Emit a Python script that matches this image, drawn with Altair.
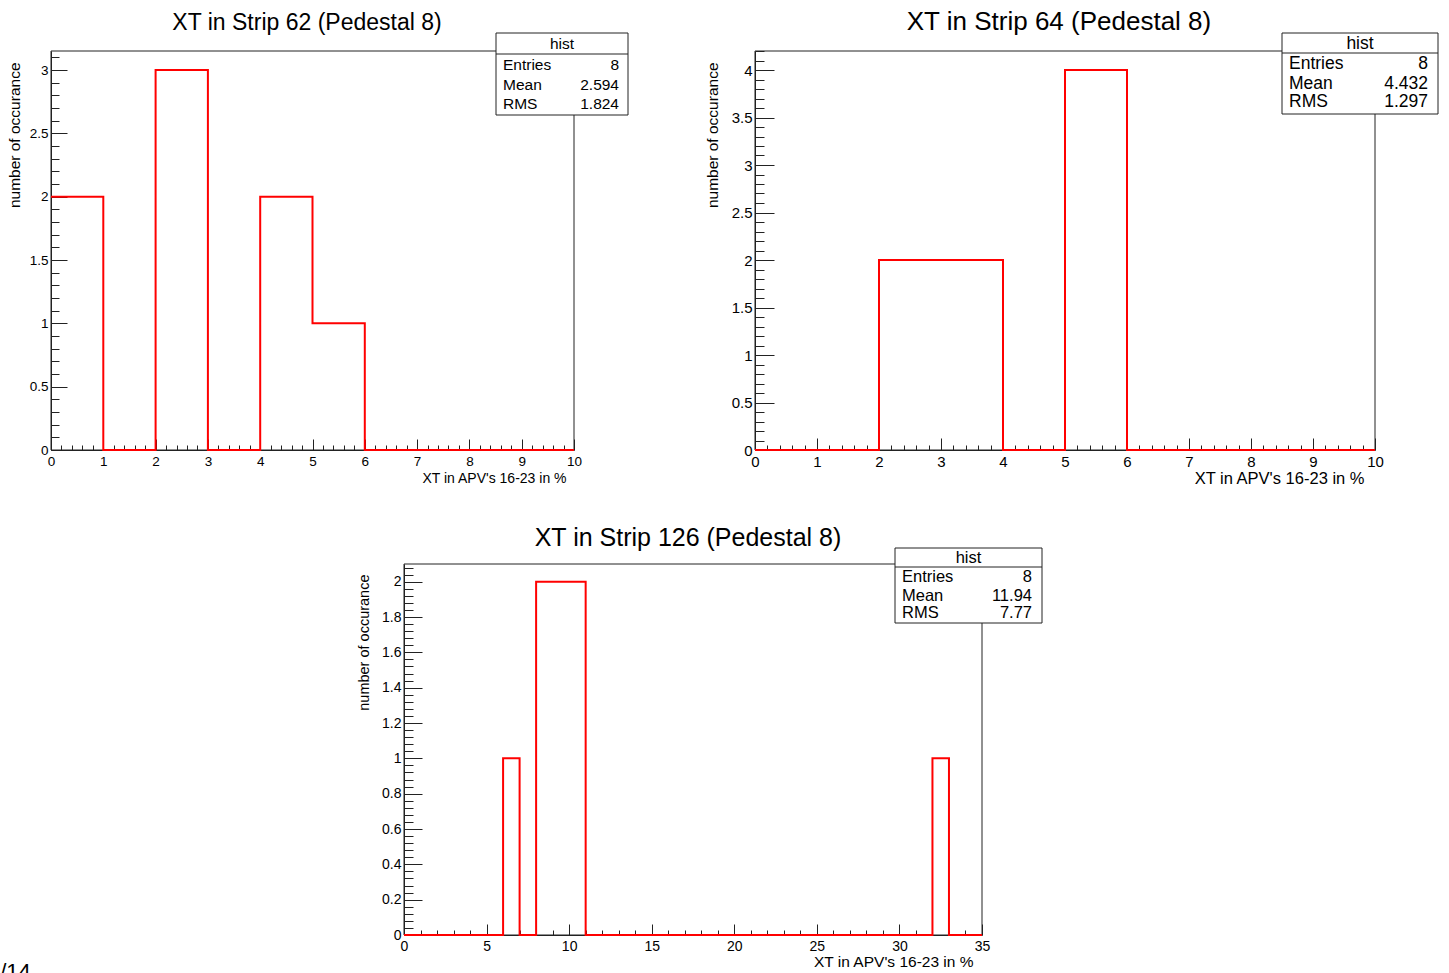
import altair as alt
import pandas as pd

W, H = 1449, 973
FONT = "Liberation Sans"
INK = "#222222"
RED = "#ff0000"

# ---- text ----
titles = ["XT in Strip 62 (Pedestal 8)", "XT in Strip 64 (Pedestal 8)", "XT in Strip 126 (Pedestal 8)"]
x_title = "XT in APV's 16-23 in %"
y_title = "number of occurance"
box_name = "hist"
stat_names = ["Entries", "Mean", "RMS"]
page_no = "1/14"

# ---- bin contents (unit-width bins starting at 0) ----
counts_62 = [2, 0, 3, 0, 2, 1, 0, 0, 0, 0]
counts_64 = [0, 0, 2, 2, 0, 4, 0, 0, 0, 0]
counts_126 = [0, 0, 0, 0, 0, 0, 1, 0, 2, 2, 2, 0, 0, 0, 0, 0, 0, 0, 0, 0,
              0, 0, 0, 0, 0, 0, 0, 0, 0, 0, 0, 0, 1, 0, 0]

# ---- statistics box values ----
stats_62 = ["8", "2.594", "1.824"]
stats_64 = ["8", "4.432", "1.297"]
stats_126 = ["8", "11.94", "7.77"]

# ---- axis ranges and tick labels ----
x_dom_62, y_dom_62 = [0, 10], [0, 3.15]
x_dom_64, y_dom_64 = [0, 10], [0, 4.2]
x_dom_126, y_dom_126 = [0, 35], [0, 2.1]
x_labels_62 = [0, 1, 2, 3, 4, 5, 6, 7, 8, 9, 10]
x_labels_64 = [0, 1, 2, 3, 4, 5, 6, 7, 8, 9, 10]
x_labels_126 = [0, 5, 10, 15, 20, 25, 30, 35]
y_labels_62 = [0, 0.5, 1, 1.5, 2, 2.5, 3]
y_labels_64 = [0, 0.5, 1, 1.5, 2, 2.5, 3, 3.5, 4]
y_labels_126 = [0, 0.2, 0.4, 0.6, 0.8, 1, 1.2, 1.4, 1.6, 1.8, 2]


def tick_values(lo, hi, step):
    n = int(round((hi - lo) / step))
    return [round(lo + i * step, 6) for i in range(n + 1)]


def major_size(step, big, small):
    test = f"abs(datum.value / {step} - round(datum.value / {step})) < 0.0001"
    return {"condition": {"test": test, "value": big}, "value": small}


def one(**kw):
    return pd.DataFrame({k: [v] for k, v in kw.items()})


def panel(counts, stats, title, x_dom, y_dom, x_labels, y_labels, g):
    x0, x1 = g["xpx"]
    yb, yt = g["ypx"]
    xs = alt.Scale(domain=x_dom, range=[x0, x1], nice=False, zero=False)
    ys = alt.Scale(domain=y_dom, range=[yb, yt], nice=False, zero=False)

    hist = pd.DataFrame({"edge": list(range(len(counts) + 1)), "count": counts + [counts[-1]]})
    line = alt.Chart(hist).mark_line(
        interpolate="step-after", color=RED, strokeWidth=2
    ).encode(
        x=alt.X("edge:Q", scale=xs, axis=alt.Axis(
            orient="bottom", offset=yb - H, values=x_labels, format="d",
            ticks=False, tickSize=0, grid=False, domainColor=INK, domainWidth=1,
            labelFont=FONT, labelFontSize=g["lab"], labelColor="#000", labelPadding=4,
            labelFlush=False, labelOverlap=False,
            title=x_title, titleFont=FONT, titleFontSize=g["xt"], titleFontWeight="normal",
            titleColor="#000", titleX=g["xtx"], titleY=g["xty"], titleAlign="right",
            titleBaseline="middle")),
        y=alt.Y("count:Q", scale=ys, axis=alt.Axis(
            orient="left", offset=-x0, values=y_labels, format="~g",
            ticks=False, tickSize=0, grid=False, domainColor=INK, domainWidth=1,
            labelFont=FONT, labelFontSize=g["lab"], labelColor="#000", labelPadding=3,
            labelFlush=False, labelOverlap=False,
            title=y_title, titleFont=FONT, titleFontSize=g["yt"], titleFontWeight="normal",
            titleColor="#000", titleAngle=270, titleX=g["ytx"] - x0, titleY=g["yty"],
            titleAlign="right", titleBaseline="middle")),
    )

    # frame around the plot; its axes carry the inward-pointing ticks
    frame = alt.Chart(one(a=x_dom[0], b=x_dom[1], c=y_dom[0], d=y_dom[1])).mark_rect(
        fill="transparent", stroke=INK, strokeWidth=1
    ).encode(
        x=alt.X("a:Q", scale=xs, axis=alt.Axis(
            orient="top", offset=-yb, values=tick_values(x_dom[0], x_dom[1], g["xminor"]),
            labels=False, domain=False, grid=False, tickColor=INK, tickWidth=1,
            tickSize=major_size(g["xmajor"], g["xtick"][0], g["xtick"][1]), title=None)),
        x2="b:Q",
        y=alt.Y("c:Q", scale=ys, axis=alt.Axis(
            orient="right", offset=x0 - W, values=tick_values(y_dom[0], g["ytop"], g["yminor"]),
            labels=False, domain=False, grid=False, tickColor=INK, tickWidth=1,
            tickSize=major_size(g["ymajor"], g["ytick"][0], g["ytick"][1]), title=None)),
        y2="d:Q",
    )

    layers = [frame, line]

    # title above the pad
    layers.append(alt.Chart(one(t=title)).mark_text(
        font=FONT, fontSize=g["title"], align="center", baseline="alphabetic", color="#000"
    ).encode(text="t:N", x=alt.value(g["tx"]), y=alt.value(g["ty"])))

    # statistics box
    bx0, bx1, by0, by1, sep = g["box"]
    layers.append(alt.Chart(one(t=box_name)).mark_rect(
        fill="white", stroke=INK, strokeWidth=1
    ).encode(x=alt.value(bx0), x2=alt.value(bx1), y=alt.value(by0), y2=alt.value(by1)))
    layers.append(alt.Chart(one(t=box_name)).mark_rule(color=INK, strokeWidth=1).encode(
        x=alt.value(bx0), x2=alt.value(bx1), y=alt.value(sep)))
    layers.append(alt.Chart(one(t=box_name)).mark_text(
        font=FONT, fontSize=g["stat"], align="center", baseline="middle", color="#000"
    ).encode(text="t:N", x=alt.value((bx0 + bx1) / 2), y=alt.value(g["hy"])))
    for name, val, ry in zip(stat_names, stats, g["rows"]):
        layers.append(alt.Chart(one(t=name)).mark_text(
            font=FONT, fontSize=g["stat"], align="left", baseline="middle", color="#000"
        ).encode(text="t:N", x=alt.value(g["sl"]), y=alt.value(ry)))
        layers.append(alt.Chart(one(t=val)).mark_text(
            font=FONT, fontSize=g["stat"], align="right", baseline="middle", color="#000"
        ).encode(text="t:N", x=alt.value(g["sr"]), y=alt.value(ry)))
    return layers


geo_62 = dict(xpx=[51, 574], ypx=[450, 51], xminor=0.2, xmajor=1, yminor=0.1, ymajor=0.5, ytop=3.1,
              xtick=(11, 5), ytick=(16, 8), lab=13.5, xt=14, yt=15.5, xtx=566, xty=28, ytx=14, yty=62,
              title=23, tx=307, ty=30, box=(496, 628, 33, 115, 54), hy=44, rows=(65, 85, 104),
              sl=503, sr=619, stat=15.5)
geo_64 = dict(xpx=[755, 1375], ypx=[450, 51], xminor=0.2, xmajor=1, yminor=0.1, ymajor=0.5, ytop=4.2,
              xtick=(12, 5), ytick=(19, 9), lab=15, xt=16.5, yt=15.5, xtx=1364, xty=28, ytx=712, yty=62,
              title=26, tx=1059, ty=30, box=(1282, 1438, 33, 114, 53), hy=44, rows=(64, 84, 102),
              sl=1289, sr=1428, stat=17.5)
geo_126 = dict(xpx=[404, 982], ypx=[935, 564], xminor=1, xmajor=5, yminor=0.04, ymajor=0.2, ytop=2.08,
               xtick=(11, 5), ytick=(18, 9), lab=14, xt=15.5, yt=14.5, xtx=973, xty=26, ytx=364, yty=574,
               title=25, tx=688, ty=546, box=(895, 1042, 548, 623, 567), hy=558, rows=(577, 596, 613),
               sl=902, sr=1032, stat=16.5)

layers = []
layers += panel(counts_62, stats_62, titles[0], x_dom_62, y_dom_62, x_labels_62, y_labels_62, geo_62)
layers += panel(counts_64, stats_64, titles[1], x_dom_64, y_dom_64, x_labels_64, y_labels_64, geo_64)
layers += panel(counts_126, stats_126, titles[2], x_dom_126, y_dom_126, x_labels_126, y_labels_126, geo_126)

# page number in the lower-left corner
layers.append(alt.Chart(one(t=page_no)).mark_text(
    font=FONT, fontSize=22, align="left", baseline="alphabetic", color="#000"
).encode(text="t:N", x=alt.value(-12), y=alt.value(979)))

chart = alt.layer(*layers).resolve_scale(
    x="independent", y="independent"
).resolve_axis(
    x="independent", y="independent"
).properties(
    width=W, height=H, padding=0, autosize=alt.AutoSizeParams(type="none"), background="white"
).configure_view(stroke="transparent")

chart.save("out.html", embed_options={"renderer": "svg", "actions": False})
